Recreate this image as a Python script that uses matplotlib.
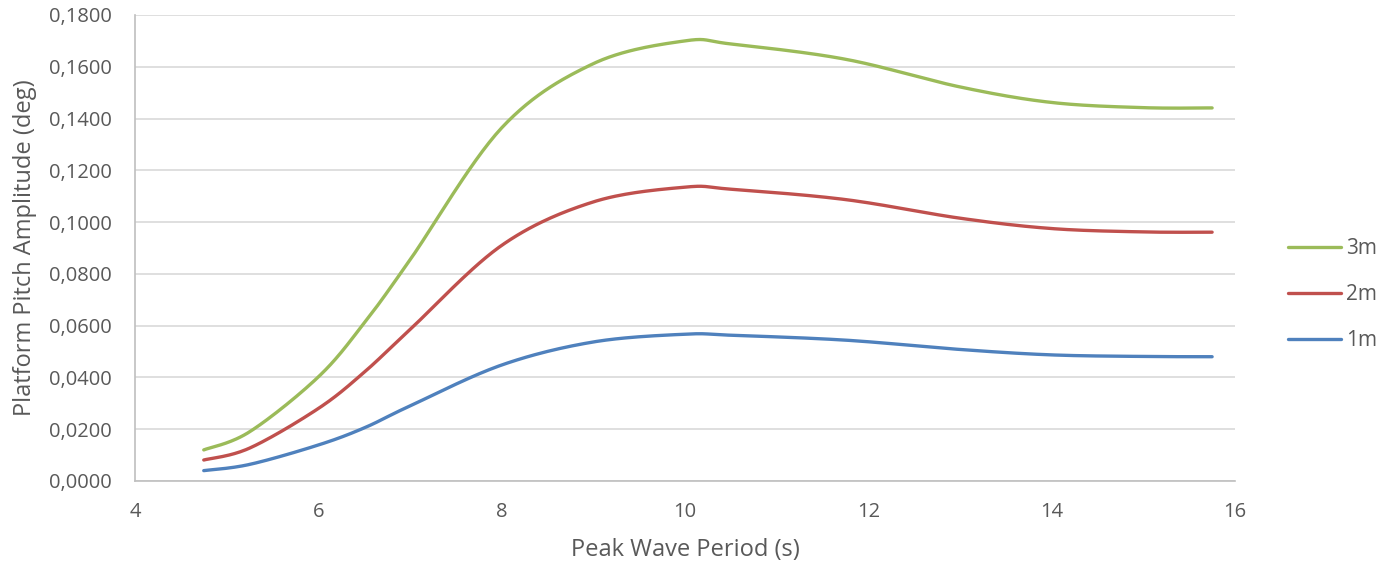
import numpy as np
import matplotlib
matplotlib.use("Agg")
import matplotlib.pyplot as plt
from matplotlib.ticker import FuncFormatter, MultipleLocator

periods = [4.75, 5.25, 6.0, 6.5, 7.0, 8.0, 9.0, 10.0, 10.5, 11.75, 13.0, 14.0, 15.0, 15.75]
amp_3m = [0.0120, 0.0190, 0.0402, 0.0610, 0.0854, 0.1364, 0.1612, 0.1700, 0.1688, 0.1629, 0.1522, 0.1462, 0.1442, 0.1441]
amp_2m = [0.0081, 0.0127, 0.0280, 0.0420, 0.0585, 0.0910, 0.1078, 0.1135, 0.1127, 0.1087, 0.1015, 0.0975, 0.0962, 0.0961]
amp_1m = [0.0040, 0.0064, 0.0139, 0.0205, 0.0290, 0.0448, 0.0537, 0.0567, 0.0563, 0.0544, 0.0508, 0.0487, 0.0481, 0.0480]
series_labels = ["3m", "2m", "1m"]
colors = ["#9BBB59", "#C0504D", "#4F81BD"]
x_label = "Peak Wave Period (s)"
y_label = "Platform Pitch Amplitude (deg)"


def smooth(x, y, n=30):
    x = np.asarray(x, float)
    y = np.asarray(y, float)
    P = np.column_stack([x, y])
    pts = np.vstack([P[0], P, P[-1]])
    out = []
    for i in range(1, len(pts) - 2):
        p0, p1, p2, p3 = pts[i - 1], pts[i], pts[i + 1], pts[i + 2]
        t = np.linspace(0, 1, n, endpoint=(i == len(pts) - 3))[:, None]
        c1 = p1 + (p2 - p0) / 6.0
        c2 = p2 - (p3 - p1) / 6.0
        seg = ((1 - t) ** 3) * p1 + 3 * ((1 - t) ** 2) * t * c1 + 3 * (1 - t) * t ** 2 * c2 + t ** 3 * p2
        out.append(seg)
    out = np.vstack(out)
    return out[:, 0], out[:, 1]


plt.rcParams['font.family'] = ['Open Sans', 'DejaVu Sans']
fig = plt.figure(figsize=(13.79, 5.65), dpi=100)
ax = fig.add_axes([0.0979, 0.1487, 0.7977, 0.8248])

for vals, lab, c in zip([amp_3m, amp_2m, amp_1m], series_labels, colors):
    sx, sy = smooth(periods, vals)
    ax.plot(sx, sy, color=c, lw=2.4, label=lab, solid_capstyle='round')

ax.set_xlim(4, 16)
ax.set_ylim(0, 0.18)
ax.xaxis.set_major_locator(MultipleLocator(2))
ax.yaxis.set_major_locator(MultipleLocator(0.02))
ax.yaxis.set_major_formatter(FuncFormatter(lambda v, p: f"{v:.4f}".replace('.', ',')))
ax.grid(axis='y', color='#d9d9d9', lw=1.2)
ax.set_axisbelow(True)
for s in ['top', 'right']:
    ax.spines[s].set_visible(False)
for s in ['left', 'bottom']:
    ax.spines[s].set_color('#bfbfbf')
    ax.spines[s].set_linewidth(1.2)
ax.tick_params(length=0, labelsize=14.5, colors='#595959')
ax.tick_params(axis='x', pad=15)
ax.tick_params(axis='y', pad=17)
ax.set_xlabel(x_label, fontsize=17, color='#595959', labelpad=12)
ax.set_ylabel(y_label, fontsize=17, color='#595959', labelpad=8)

leg = fig.legend(loc='center left', bbox_to_anchor=(0.928, 0.478), bbox_transform=fig.transFigure,
                 frameon=False, borderaxespad=0,
                 fontsize=15, labelcolor='#595959', handlelength=2.55, handletextpad=0.25,
                 labelspacing=1.2)

fig.savefig("out.png", dpi=100)
